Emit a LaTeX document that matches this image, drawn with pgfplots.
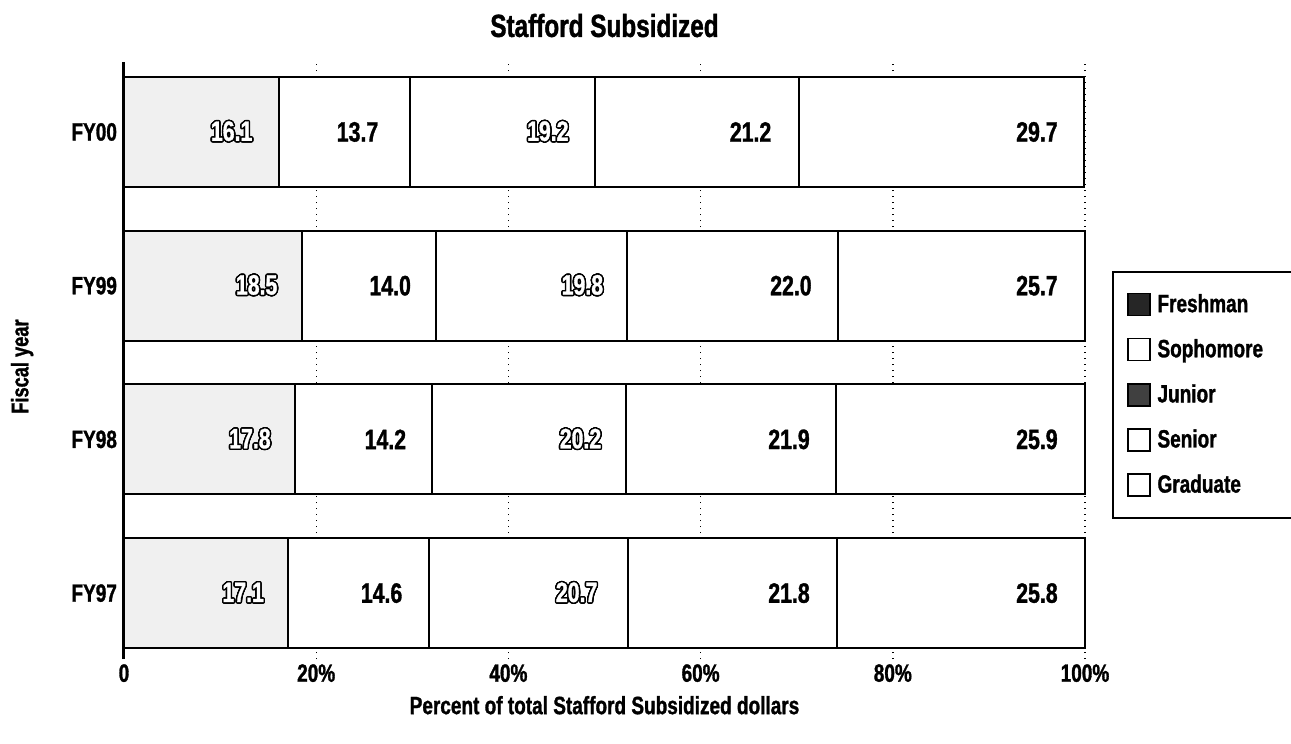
\documentclass[border=0pt]{standalone}
\usepackage{pgfplots}
\pgfplotsset{compat=1.18}
\usepackage{fontspec}
\setmainfont{Liberation Sans}[FakeStretch=0.76, BoldFeatures={FakeBold=1.2}]
\usepackage{contour}
\contourlength{0.75pt}

\pgfplotsset{
  frame/.style={
    width=480.5pt, height=298.6pt, scale only axis,
    xmin=0, xmax=100, ymin=-0.43, ymax=3.455,
    clip=false,
  },
  lbl/.style={draw=none, mark=none, nodes near coords, point meta=explicit symbolic,
    every node near coord/.append style={anchor=center, font=\bfseries\fontsize{14}{16}\selectfont}},
  seg/.style={draw=black, line width=1pt, forget plot},
}

\begin{document}
\begin{tikzpicture}
\begin{axis}[frame,
  xbar stacked, bar width=55pt,
  axis lines*=left,
  x axis line style={draw=none},
  y axis line style={-, line width=1.5pt},
  major tick length=0pt,
  xtick={0,20,40,60,80,100},
  xticklabels={0,20\%,40\%,60\%,80\%,100\%},
  ytick={0,1,2,3},
  yticklabels={FY97,FY98,FY99,FY00},
  tick label style={font=\bfseries\fontsize{12.5}{14}\selectfont},
  xticklabel style={yshift=1pt},
  xmajorgrids,
  grid style={black, line width=0.7pt, dash pattern=on 0.7pt off 2.3pt},
  title={Stafford Subsidized},
  title style={at={(axis description cs:0.5,1.041)}, anchor=center, font=\bfseries\fontsize{16}{18}\selectfont},
  xlabel={Percent of total Stafford Subsidized dollars},
  xlabel style={at={(axis description cs:0.5,-0.077)}, anchor=center, font=\bfseries\fontsize{12.5}{14}\selectfont},
  ylabel={Fiscal year},
  ylabel style={at={(axis description cs:-0.106,0.49)}, anchor=center, font=\bfseries\fontsize{12}{14}\selectfont},
  legend style={at={(1.028,0.65)}, anchor=north west, draw=black, line width=1pt,
    font=\bfseries\fontsize{12.5}{14}\selectfont, row sep=8pt, inner xsep=7pt, inner ysep=9pt,
    nodes={inner xsep=3.5pt}},
  legend cell align=left,
]
% Freshman, Sophomore, Junior, Senior, Graduate
\addplot[seg, fill=black!6] coordinates {(16.1,3) (18.5,2) (17.8,1) (17.1,0)};
\addplot[seg, fill=white] coordinates {(13.7,3) (14.0,2) (14.2,1) (14.6,0)};
\addplot[seg, fill=white] coordinates {(19.2,3) (19.8,2) (20.2,1) (20.7,0)};
\addplot[seg, fill=white] coordinates {(21.2,3) (22.0,2) (21.9,1) (21.8,0)};
\addplot[seg, fill=white] coordinates {(29.7,3) (25.7,2) (25.9,1) (25.8,0)};

\addlegendimage{legend image code/.code={\draw[fill=black!85, line width=0.8pt] (0pt,-5.5pt) rectangle (11pt,5.5pt);}}
\addlegendentry{Freshman}
\addlegendimage{legend image code/.code={\draw[fill=white, line width=0.8pt] (0pt,-5.5pt) rectangle (11pt,5.5pt);}}
\addlegendentry{Sophomore\hspace*{30pt}}
\addlegendimage{legend image code/.code={\draw[fill=black!75, line width=0.8pt] (0pt,-5.5pt) rectangle (11pt,5.5pt);}}
\addlegendentry{Junior}
\addlegendimage{legend image code/.code={\draw[fill=white, line width=0.8pt] (0pt,-5.5pt) rectangle (11pt,5.5pt);}}
\addlegendentry{Senior}
\addlegendimage{legend image code/.code={\draw[fill=white, line width=0.8pt] (0pt,-5.5pt) rectangle (11pt,5.5pt);}}
\addlegendentry{Graduate}
\end{axis}

\begin{axis}[frame, hide axis]
% labels of Sophomore, Senior and Graduate segments
\addplot[lbl] table[meta=label] {
x y label
24.3 3 13.7
65.2 3 21.2
95.0 3 29.7
27.7 2 14.0
69.4 2 22.0
95.0 2 25.7
27.2 1 14.2
69.2 1 21.9
95.0 1 25.9
26.8 0 14.6
69.2 0 21.8
95.0 0 25.8
};
% outlined labels of Freshman and Junior segments
\addplot[lbl, nodes near coords={\textcolor{white}{\contour{black}{\pgfplotspointmeta}}}] table[meta=label] {
x y label
11.2 3 16.1
44.1 3 19.2
13.8 2 18.5
47.7 2 19.8
13.1 1 17.8
47.5 1 20.2
12.4 0 17.1
47.1 0 20.7
};
\end{axis}

\pgfresetboundingbox
\path[use as bounding box] ([shift={(-62pt,-42pt)}]current axis.south west) rectangle ([shift={(103pt,31pt)}]current axis.north east);
\end{tikzpicture}
\end{document}
